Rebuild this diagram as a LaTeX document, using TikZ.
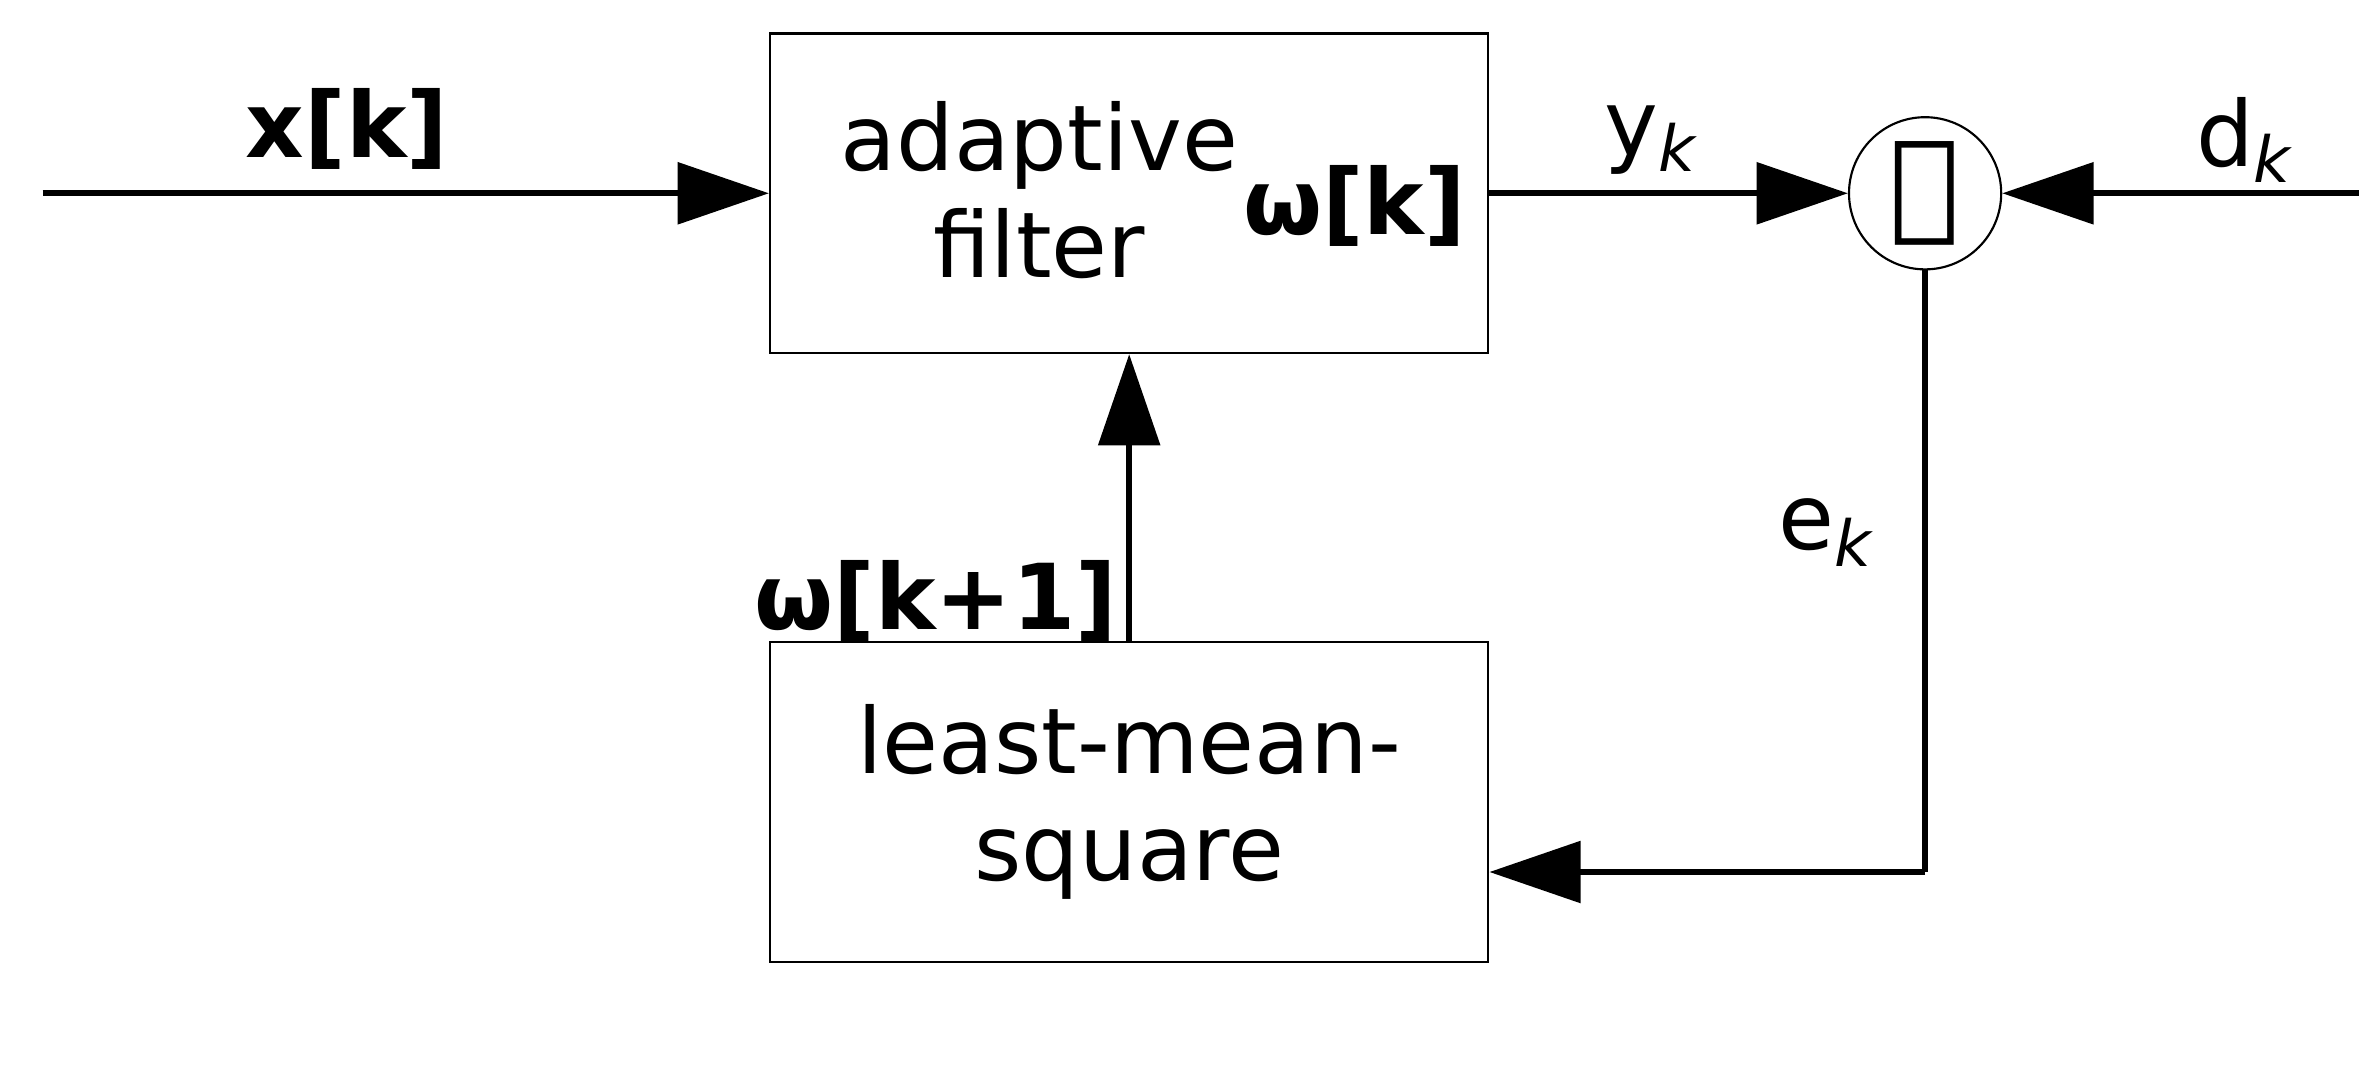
\documentclass[tikz,border=0pt]{standalone}
\usepackage{fontspec}
\setmainfont{DejaVu Sans}
\usetikzlibrary{arrows.meta}

\newcommand{\blk}{\node[draw, thin, minimum width=4.72cm, minimum height=2.1cm, align=center]}
\newcommand{\lbl}{\node[inner sep=0pt, align=center]}

\tikzset{
    sig/.style={line width=1.2pt, -{Triangle[length=6mm, width=4mm]}},
    wire/.style={line width=1.2pt}
}

\begin{document}
\begin{tikzpicture}[font=\fontsize{17}{20}\selectfont]
            \useasboundingbox (0,0) rectangle (15.6,7.0);

            \blk (filt) at (7.42, 5.73) {};
            \blk (lms) at (7.42, 1.73) {least-mean-\\square};
            \node[circle, draw, thin, minimum size=1.0cm, inner sep=0pt] (sum) at (12.65, 5.73) {\fontsize{22}{22}\selectfont $\mathit{\Delta}$};

            \coordinate (xin) at (0.28, 5.73);
            \coordinate (din) at (15.5, 5.73);
            \coordinate (ecorner) at (12.65, 1.27);

            \lbl (xl) at (2.28, 6.15) {\textbf{x[k]}};
            \lbl (af) at (6.83, 5.75) {adaptive\\filter};
            \lbl (wl) at (8.9, 5.65) {\textbf{ω[k]}};
            \lbl (yl) at (10.85, 6.08) {y$_{\mathit{k}}$};
            \lbl (dl) at (14.75, 6.08) {d$_{\mathit{k}}$};
            \lbl (el) at (12.0, 3.5) {e$_{\mathit{k}}$};
            \lbl (wn) at (6.15, 3.05) {\textbf{ω[k+1]}};

            \draw[sig]
                (xin) -- (filt.west)
                ;
            \draw[sig]
                (filt.east) -- (sum.west)
                ;
            \draw[sig]
                (din) -- (sum.east)
                ;
            \draw[sig]
                (lms.north) -- (filt.south)
                ;
            \draw[wire]
                (sum.south) -- (ecorner)
                ;
            \draw[sig]
                (ecorner) -- (lms.east |- ecorner)
                ;
        \end{tikzpicture}
\end{document}
